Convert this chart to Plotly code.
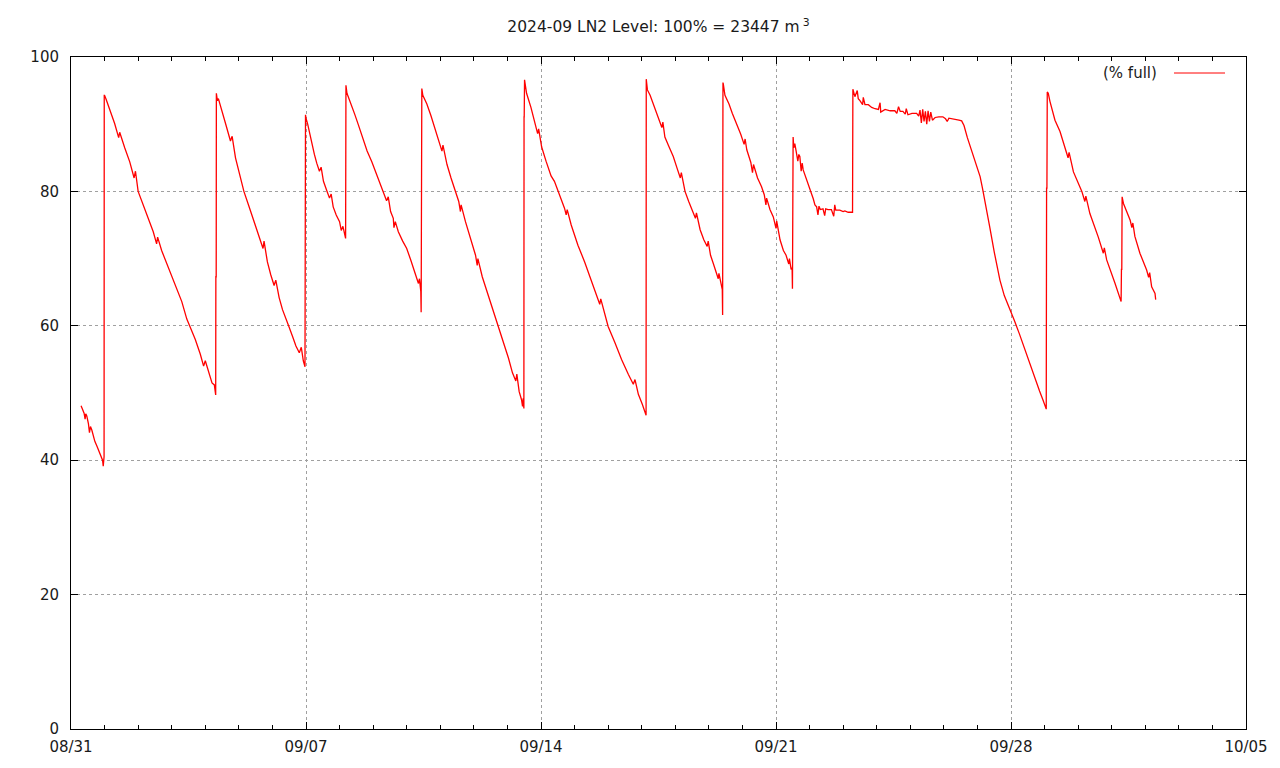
import pandas as pd
import plotly.graph_objects as go

# Time in days since 2024-08-31 00:00 and LN2 level (% full)
days = [
    # cycle 1 (end)
    0.30, 0.35, 0.39, 0.42, 0.44, 0.47, 0.52, 0.55, 0.58, 0.62, 0.66, 0.71, 0.78, 0.84, 0.89, 0.94, 0.96, 0.985,
    # cycle 2
    0.99, 1.00, 1.04, 1.15, 1.30, 1.42, 1.45, 1.60, 1.75, 1.88, 1.92, 2.00, 2.15, 2.30, 2.45, 2.55, 2.58, 2.70,
    2.85, 3.00, 3.15, 3.30, 3.45, 3.55, 3.70, 3.85, 3.95, 4.00, 4.10, 4.20, 4.27, 4.31,
    # cycle 3
    4.315, 4.325, 4.33, 4.36, 4.39, 4.50, 4.62, 4.75, 4.80, 4.90, 5.02, 5.15, 5.30, 5.45, 5.60, 5.72, 5.75, 5.85,
    5.95, 6.05, 6.10, 6.20, 6.30, 6.40, 6.49, 6.60, 6.70, 6.80, 6.86, 6.92, 6.97,
    # cycle 4
    6.985, 7.00, 7.05, 7.15, 7.25, 7.32, 7.40, 7.45, 7.52, 7.62, 7.70, 7.75, 7.81, 7.90, 8.00, 8.05, 8.10, 8.18,
    # cycle 5
    8.19, 8.22, 8.26, 8.35, 8.45, 8.56, 8.70, 8.82, 8.96, 9.10, 9.20, 9.30, 9.40, 9.45, 9.52, 9.60, 9.62, 9.66,
    9.75, 9.88, 10.00, 10.12, 10.25, 10.35, 10.38, 10.42, 10.43,
    # cycle 6
    10.44, 10.45, 10.48, 10.60, 10.72, 10.85, 10.98, 11.05, 11.08, 11.20, 11.32, 11.44, 11.55, 11.60, 11.62, 11.75,
    11.90, 12.05, 12.10, 12.12, 12.25, 12.40, 12.55, 12.73, 12.88, 13.03, 13.15, 13.25, 13.28, 13.35, 13.42, 13.45,
    13.47, 13.49,
    # cycle 7
    13.495, 13.50, 13.51, 13.53, 13.57, 13.70, 13.85, 13.90, 13.93, 14.02, 14.15, 14.30, 14.40, 14.52, 14.70, 14.75,
    14.78, 14.90, 15.10, 15.30, 15.50, 15.70, 15.75, 15.78, 16.00, 16.20, 16.40, 16.60, 16.75, 16.80, 16.90, 17.02,
    17.10, 17.13,
    # cycle 8
    17.135, 17.15, 17.17, 17.25, 17.35, 17.45, 17.55, 17.60, 17.63, 17.69, 17.80, 17.94, 18.05, 18.15, 18.18, 18.29,
    18.40, 18.52, 18.60, 18.63, 18.74, 18.85, 18.95, 18.98, 19.05, 19.13, 19.20, 19.28, 19.30, 19.37, 19.40, 19.41,
    # cycle 9
    19.42, 19.43, 19.48, 19.60, 19.70, 19.83, 19.95, 20.05, 20.08, 20.13, 20.25, 20.30, 20.33, 20.45, 20.57, 20.65,
    20.70, 20.72, 20.82, 20.92, 21.00, 21.02, 21.12, 21.22, 21.30, 21.38, 21.40, 21.45, 21.48, 21.49,
    # cycle 10
    21.50, 21.51, 21.53, 21.56, 21.60, 21.65, 21.68, 21.71, 21.75, 21.78, 21.81, 21.90, 21.96, 22.03, 22.11, 22.16,
    22.21, 22.25, 22.28, 22.32, 22.40, 22.45, 22.48, 22.55, 22.65, 22.72, 22.75, 22.78, 22.90, 23.00, 23.05, 23.15,
    23.28,
    # cycle 11
    23.29, 23.31, 23.35, 23.42, 23.45, 23.50, 23.58, 23.60, 23.65, 23.75, 23.85, 23.95, 24.05, 24.10, 24.12, 24.25,
    24.40, 24.54, 24.60, 24.65, 24.70, 24.78, 24.85, 24.88, 24.93, 25.05, 25.19, 25.25, 25.29, 25.33, 25.37, 25.41,
    25.45, 25.49, 25.53, 25.57, 25.61, 25.66, 25.74, 25.85, 25.97, 26.05, 26.10, 26.15, 26.30, 26.45, 26.53,
    26.60, 26.70, 26.80, 26.90, 27.00, 27.08, 27.15, 27.25, 27.37, 27.50, 27.60, 27.67, 27.80, 27.97, 28.10, 28.25,
    28.40, 28.55, 28.70, 28.85, 28.95, 29.05,
    # cycle 12
    29.06, 29.07, 29.08, 29.11, 29.16, 29.31, 29.46, 29.61, 29.70, 29.73, 29.86, 30.11, 30.20, 30.23, 30.35, 30.60,
    30.75, 30.78, 30.85, 31.10, 31.25, 31.28,
    # cycle 13
    31.29, 31.30, 31.31, 31.35, 31.55, 31.60, 31.63, 31.69, 31.84, 32.04, 32.10, 32.13, 32.19, 32.29, 32.31,
]
level = [
    48.1, 47.6, 47.0, 46.1, 46.9, 46.6, 45.4, 44.1, 45.0, 44.5, 43.5, 42.8, 42.0, 41.3, 40.6, 40.0, 39.1, 40.5,
    94.3, 94.3, 93.8, 92.2, 90.1, 88.0, 88.8, 86.5, 84.4, 82.0, 83.0, 80.0, 78.0, 76.0, 74.0, 72.2, 73.2, 71.2,
    69.3, 67.2, 65.4, 63.6, 61.0, 59.9, 58.0, 55.8, 54.0, 54.8, 53.2, 51.5, 51.2, 49.7,
    67.3, 67.3, 94.6, 93.5, 93.8, 92.0, 89.8, 87.5, 88.2, 85.0, 82.6, 80.0, 77.8, 75.6, 73.2, 71.5, 72.6, 69.5,
    67.6, 66.0, 66.8, 64.2, 62.4, 61.2, 59.9, 58.4, 57.0, 56.0, 56.8, 54.8, 53.9,
    91.4, 90.9, 90.0, 87.5, 85.5, 84.2, 83.0, 83.6, 81.5, 80.1, 79.0, 79.6, 77.7, 76.5, 75.5, 74.2, 74.8, 73.0,
    95.8, 94.6, 94.1, 93.0, 91.5, 89.9, 87.8, 86.0, 84.4, 82.6, 81.3, 80.1, 78.6, 79.2, 77.0, 76.0, 74.6, 75.5,
    74.0, 72.6, 71.5, 69.8, 68.0, 66.3, 67.0, 65.1, 62.0,
    95.3, 95.3, 94.3, 93.0, 91.3, 89.3, 87.2, 86.0, 86.9, 84.0, 82.0, 80.0, 78.5, 77.0, 78.0, 75.5,
    73.0, 70.5, 69.0, 70.0, 67.3, 65.0, 62.6, 59.9, 57.5, 55.2, 53.0, 51.8, 52.8, 50.2, 49.0, 48.0,
    49.2, 47.7,
    91.1, 91.1, 96.6, 95.8, 94.6, 92.5, 89.8, 88.6, 89.3, 86.6, 84.5, 82.3, 81.5, 80.0, 77.5, 76.5,
    77.3, 75.0, 72.0, 69.5, 66.8, 64.0, 63.2, 64.0, 59.9, 57.5, 55.0, 52.8, 51.3, 52.0, 49.8, 48.3,
    47.0, 46.7,
    96.7, 96.2, 95.1, 94.3, 93.0, 91.6, 90.3, 89.5, 90.3, 88.1, 86.8, 85.2, 83.5, 82.0, 82.8, 80.0,
    78.5, 77.0, 76.0, 76.8, 74.3, 72.8, 71.8, 72.6, 70.5, 69.3, 68.3, 67.0, 67.8, 66.0, 65.4, 61.6,
    96.2, 96.0, 94.3, 93.0, 91.6, 90.1, 88.5, 87.0, 87.8, 86.2, 84.3, 82.8, 84.0, 82.0, 80.7, 79.5,
    78.0, 79.0, 77.3, 76.2, 74.5, 75.6, 72.8, 71.2, 70.5, 69.2, 70.0, 68.4, 68.6, 65.5,
    88.1, 88.1, 86.5, 87.1, 86.0, 84.5, 85.5, 85.2, 83.0, 84.2, 83.2, 82.0, 81.2, 80.0, 78.9, 78.0,
    77.7, 76.5, 77.8, 77.3, 77.4, 76.4, 77.4, 77.3, 77.3, 76.3, 78.0, 77.2, 77.2, 77.0, 77.1, 76.9,
    76.9,
    95.2, 94.8, 94.1, 95.0, 93.8, 93.5, 92.9, 94.0, 92.9, 92.9, 92.5, 92.3, 92.2, 93.2, 91.8, 92.2,
    92.0, 92.0, 91.6, 92.6, 91.9, 91.9, 91.5, 92.3, 91.4, 91.6, 91.6, 91.2, 92.1, 90.2, 92.2, 90.4,
    91.9, 90.0, 92.0, 90.4, 91.8, 90.6, 91.0, 91.1, 91.1, 90.8, 90.4, 90.9, 90.8, 90.6, 90.5,
    89.8, 88.0, 86.5, 85.0, 83.5, 82.2, 80.5, 78.0, 74.6, 71.0, 68.4, 66.8, 64.5, 62.5, 60.8, 58.8,
    56.6, 54.5, 52.5, 50.3, 49.0, 47.6,
    80.5, 80.5, 94.8, 94.6, 93.4, 90.6, 88.9, 86.4, 85.0, 85.8, 82.9, 80.0, 78.5, 79.3, 76.7, 73.2,
    70.8, 71.6, 69.8, 66.3, 64.1, 63.6,
    68.4, 68.4, 79.2, 78.2, 75.7, 74.6, 75.3, 73.3, 70.8, 68.3, 67.2, 67.9, 65.8, 64.8, 63.9,
]

x_tick_start = "2024-08-31"
x_range = ["2024-08-31", "2024-10-05"]
y_range = [0, 100]
title_text = "2024-09 LN2 Level: 100% = 23447 m\u2009<sup>3</sup>"
series_name = "(% full)"

base = pd.Timestamp("2024-08-31")
times = [base + pd.Timedelta(days=d) for d in days]

FONT = "DejaVu Sans"
FS = 15
TEXT = "#1a1a1a"

fig = go.Figure()
fig.add_trace(go.Scatter(
    x=times, y=level, mode="lines", name=series_name,
    line=dict(color="#ff0000", width=1.3), showlegend=False,
))

axis_common = dict(
    showline=True, linecolor="black", linewidth=1, mirror="ticks",
    ticks="inside", tickcolor="black", ticklen=7, tickwidth=1,
    showgrid=True, gridcolor="#a0a0a0", griddash="dot", gridwidth=1,
    zeroline=False, tickfont=dict(family=FONT, size=FS, color=TEXT),
)

fig.update_xaxes(
    type="date", range=x_range, tick0=x_tick_start, dtick=7 * 86400000,
    tickformat="%m/%d", ticklabelstandoff=4,
    minor=dict(dtick=86400000, ticks="inside", ticklen=4, tickcolor="black", showgrid=False),
    **axis_common,
)
fig.update_yaxes(range=y_range, dtick=20, ticklabelstandoff=8, **axis_common)

# body margin of the page is 8px, so the figure is 8px smaller on each side
fig.update_layout(
    width=1272, height=760,
    margin=dict(l=63, r=34, t=49, b=39),
    paper_bgcolor="white", plot_bgcolor="white",
    font=dict(family=FONT, size=FS, color=TEXT),
    title=dict(text=title_text, x=0.5, xref="paper", y=1 - 19 / 760, yref="container",
               xanchor="center", yanchor="middle", font=dict(family=FONT, size=15.5, color=TEXT)),
    annotations=[dict(
        text=series_name, xref="paper", yref="paper", x=(1159 - 71) / 1175, y=(729 - 73) / 672,
        xanchor="right", yanchor="middle", showarrow=False,
        font=dict(family=FONT, size=FS, color=TEXT),
    )],
    shapes=[dict(
        type="line", xref="paper", yref="paper",
        x0=(1174 - 71) / 1175, x1=(1225 - 71) / 1175,
        y0=(729 - 73) / 672, y1=(729 - 73) / 672,
        line=dict(color="#ff0000", width=1),
    )],
)

fig.write_html("out.html")
